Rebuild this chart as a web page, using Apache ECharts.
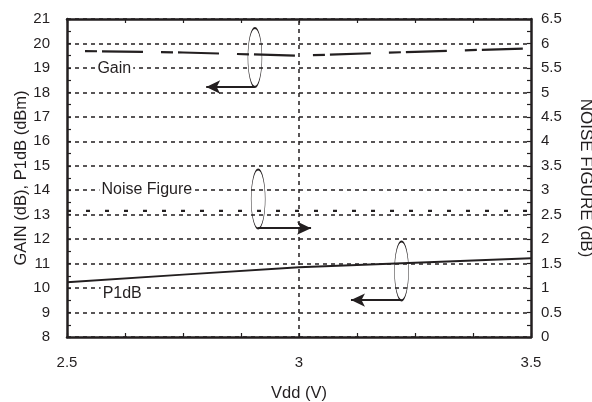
<!DOCTYPE html>
<html>
<head>
<meta charset="utf-8">
<script src="https://cdn.jsdelivr.net/npm/echarts@6/dist/echarts.min.js"></script>
<style>
html,body{margin:0;padding:0;background:#fff;}
#c{width:592px;height:402px;}
</style>
</head>
<body>
<div id="c"></div>
<script>
// ---- data ----
const vdd = [2.5, 2.75, 3.0, 3.25, 3.5];
const gain = [19.7, 19.63, 19.5, 19.66, 19.8];
const p1db = [10.24, 10.55, 10.85, 11.04, 11.22];
const noiseFigure = [2.58, 2.58, 2.58, 2.58, 2.58];
const xTickLabels = [2.5, 3, 3.5];
const seriesNames = ['Gain', 'Noise Figure', 'P1dB'];
// annotation anchors in data units (Vdd, left-axis value)
const annoText = [[2.602, 18.97], [2.672, 14.03], [2.619, 9.77]];
const annoEllipse = [[2.905, 19.43], [2.912, 13.64], [3.221, 10.70]];
const annoArrow = [
  [[2.905, 18.22], [2.800, 18.22]],
  [[2.912, 12.45], [3.026, 12.45]],
  [[3.221, 9.51], [3.112, 9.51]]
];

const ink = '#231f20';
const font = 'Liberation Sans, Arial, Helvetica, sans-serif';
const pair = (xs, ys) => xs.map((x, i) => [x, ys[i]]);

const chart = echarts.init(document.getElementById('c'), null, {renderer: 'canvas'});

const frameLine = {show: true, lineStyle: {color: ink, width: 2.5}};
const tickIn = {show: true, inside: true, length: 4, lineStyle: {color: ink, width: 1.2}};
const minorIn = {show: true, splitNumber: 2, length: 4, lineStyle: {color: ink, width: 1.2}};

const option = {
  animation: false,
  textStyle: {fontFamily: font},
  grid: {left: 67, right: 61, top: 19, bottom: 65, outerBoundsMode: 'none', containLabel: false},
  xAxis: [{
    type: 'value', min: 2.5, max: 3.5, interval: 0.125, position: 'bottom',
    axisLine: frameLine, axisTick: tickIn, splitLine: {show: false},
    axisLabel: {
      margin: 18, fontSize: 15, color: ink, fontFamily: font,
      formatter: v => xTickLabels.some(t => Math.abs(t - v) < 1e-6) ? String(v) : ''
    },
    name: 'Vdd (V)', nameLocation: 'middle', nameGap: 48, nameMoveOverlap: false,
    nameTextStyle: {fontSize: 16.5, color: ink, fontFamily: font}
  }, {
    type: 'value', min: 2.5, max: 3.5, interval: 0.125, position: 'top',
    axisLine: frameLine, axisTick: tickIn, axisLabel: {show: false}, splitLine: {show: false}
  }],
  yAxis: [{
    type: 'value', min: 8, max: 21, interval: 1, position: 'left',
    axisLine: frameLine, axisTick: tickIn, minorTick: minorIn,
    axisLabel: {margin: 17, fontSize: 15, color: ink, fontFamily: font, padding: [0, 0, 4, 0]},
    splitLine: {show: true, lineStyle: {color: ink, width: 1.5, type: [4, 4]}},
    name: 'GAIN (dB), P1dB (dBm)', nameLocation: 'middle', nameGap: 37.5, nameMoveOverlap: false,
    nameTextStyle: {fontSize: 16.5, color: ink, fontFamily: font}
  }, {
    type: 'value', min: 0, max: 6.5, interval: 0.5, position: 'right',
    axisLine: frameLine, axisTick: tickIn, minorTick: minorIn,
    axisLabel: {margin: 10, fontSize: 15, color: ink, fontFamily: font, padding: [0, 0, 6, 0]},
    splitLine: {show: false},
    name: 'NOISE FIGURE (dB)', nameLocation: 'middle', nameGap: 46, nameRotate: -90, nameMoveOverlap: false,
    nameTextStyle: {fontSize: 17, color: ink, fontFamily: font}
  }],
  series: [{
    name: seriesNames[0], type: 'line', xAxisIndex: 0, yAxisIndex: 0,
    data: pair(vdd, gain), symbol: 'none', z: 3,
    lineStyle: {color: ink, width: 2.2, type: [0, 18, 12, 5, 41, 0]},
    markLine: {
      silent: true, animation: false, label: {show: false},
      symbolSize: [10, 14],
      data: [
        [{coord: [3, 8], symbol: 'none', lineStyle: {color: ink, width: 1.5, type: [4, 4]}},
         {coord: [3, 21], symbol: 'none'}]
      ].concat(annoArrow.map(a => [
        {coord: a[0], symbol: 'none', lineStyle: {color: ink, width: 1.8, type: 'solid'}},
        {coord: a[1], symbol: 'arrow'}
      ])),
      itemStyle: {color: ink}
    },
    markPoint: {
      silent: true, animation: false,
      data: annoEllipse.map((c, i) => ({
        coord: c, symbol: 'circle', symbolSize: [14, 59],
        itemStyle: {color: 'rgba(0,0,0,0)', borderColor: ink, borderWidth: 1},
        label: {show: false}
      })).concat(annoText.map((c, i) => ({
        coord: c, symbol: 'rect', symbolSize: 1,
        itemStyle: {color: 'rgba(0,0,0,0)'},
        label: {show: true, position: 'inside', formatter: seriesNames[i],
          fontSize: 16, color: ink, fontFamily: font, backgroundColor: '#fff', padding: [1, 2]}
      })))
    }
  }, {
    name: seriesNames[1], type: 'line', xAxisIndex: 0, yAxisIndex: 1,
    data: pair(vdd, noiseFigure), symbol: 'none', z: 3,
    lineStyle: {color: ink, width: 2.2, type: [4, 15]}
  }, {
    name: seriesNames[2], type: 'line', xAxisIndex: 0, yAxisIndex: 0,
    data: pair(vdd, p1db), symbol: 'none', z: 3,
    lineStyle: {color: ink, width: 2}
  }]
};
chart.setOption(option);
</script>
</body>
</html>
